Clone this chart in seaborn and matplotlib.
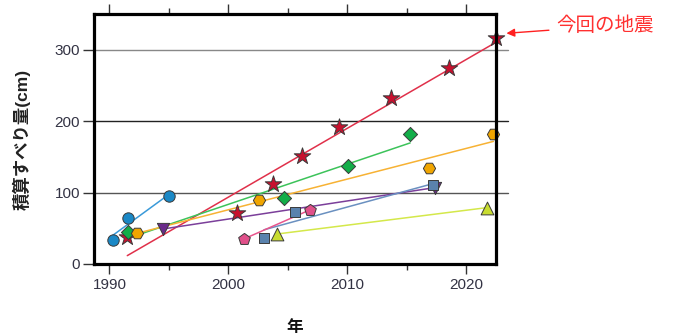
import matplotlib
matplotlib.use("Agg")
import matplotlib.pyplot as plt
import seaborn as sns
import numpy as np
import pandas as pd

# Cumulative slip (cm) per event sequence, by year
star_year = [1991.5, 2000.7, 2003.8, 2006.2, 2009.3, 2013.7, 2018.6, 2022.5]
star_slip = [38, 72, 112, 151, 192, 232, 274, 316]

circle_year = [1990.3, 1991.6, 1995.0]
circle_slip = [34, 65, 95]

diamond_year = [1991.6, 2004.7, 2010.1, 2015.3]
diamond_slip = [45, 92, 137, 182]

hexagon_year = [1992.3, 2002.6, 2016.9, 2022.3]
hexagon_slip = [44, 89, 135, 182]

downtri_year = [1994.5, 2017.4]
downtri_slip = [49, 107]

square_year = [2003.0, 2005.6, 2017.2]
square_slip = [37, 73, 110]

pentagon_year = [2001.3, 2006.9]
pentagon_slip = [35, 76]

uptri_year = [2004.1, 2021.8]
uptri_slip = [42, 79]

x_ticks = [1990, 2000, 2010, 2020]
y_ticks = [0, 100, 200, 300]
x_label = "年"
y_label = "積算すべり量(cm)"
note_text = "今回の地震"

sns.set_theme(style="white")
plt.rcParams["font.family"] = ["Liberation Sans", "Noto Sans CJK JP", "DejaVu Sans"]

series = [
    # (years, slip, marker, size, face, line colour)
    (star_year, star_slip, "*", 12.5, "#c8102e", "#e0304a"),
    (circle_year, circle_slip, "o", 8.2, "#1a88c6", "#3a9ad9"),
    (diamond_year, diamond_slip, "D", 7.2, "#12ad48", "#3cc35a"),
    (hexagon_year, hexagon_slip, "H", 8.8, "#f0a500", "#f7b234"),
    (downtri_year, downtri_slip, "v", 8.8, "#6a2a8a", "#7b3f9a"),
    (square_year, square_slip, "s", 7.2, "#5a82ad", "#6a90c0"),
    (pentagon_year, pentagon_slip, "p", 8.8, "#e0508a", "#e8558c"),
    (uptri_year, uptri_slip, "^", 9.2, "#c8dc30", "#d4e84a"),
]

fig = plt.figure(figsize=(6.73, 3.36), dpi=100)
ax = fig.add_axes([0.1397, 0.2143, 0.5969, 0.7440])

# Horizontal reference lines, reaching a little past the frame on the right
grid_colors = {100: "#555555", 200: "#222222", 300: "#888888"}
for level, col in grid_colors.items():
    ax.axhline(level, xmin=0, xmax=1.03, color=col, lw=1.0, zorder=1,
               clip_on=False)

# Least-squares trend line of each sequence
for yrs, slip, mk, ms, face, lc in series:
    df = pd.DataFrame({"year": yrs, "slip": slip})
    sns.regplot(data=df, x="year", y="slip", ax=ax, scatter=False, ci=None,
                truncate=True, line_kws=dict(color=lc, lw=1.1, zorder=2))

# Event markers
for yrs, slip, mk, ms, face, lc in series:
    df = pd.DataFrame({"year": yrs, "slip": slip})
    sns.scatterplot(data=df, x="year", y="slip", ax=ax, marker=mk, s=ms ** 2,
                    color=face, edgecolor="#3a3a3a", linewidth=0.7,
                    zorder=3, clip_on=False, legend=False)

ax.set_xlim(1988.7, 2022.5)
ax.set_ylim(0, 350)
ax.set_xticks(x_ticks)
ax.set_xticks([1995, 2005, 2015], minor=True)
ax.set_yticks(y_ticks)
ax.set_xticklabels([str(v) for v in x_ticks])
ax.set_yticklabels([str(v) for v in y_ticks])

ax.tick_params(axis="x", which="major", direction="out", length=7, width=1,
               color="#333333", labelsize=11, labelcolor="#333344",
               bottom=True, top=True, pad=3)
ax.tick_params(axis="x", which="minor", direction="out", length=4, width=1,
               color="#333333", bottom=True, top=True)
ax.tick_params(axis="y", direction="out", length=8, width=1,
               color="#333333", labelsize=11, labelcolor="#333344",
               left=True, pad=2)

for sp in ax.spines.values():
    sp.set_visible(True)
    sp.set_color("black")
    sp.set_linewidth(2.3)
    sp.set_zorder(4)

ax.set_xlabel(x_label, fontsize=12, fontweight="bold", color="#111111",
              labelpad=20)
ax.set_ylabel(y_label, fontsize=12.5, fontweight="bold", color="#222222",
              labelpad=17)

ax.annotate(note_text, xy=(2023.4, 323), xytext=(2027.6, 333),
            xycoords="data", textcoords="data", ha="left", va="center",
            fontsize=14, color="#ff3030", annotation_clip=False,
            arrowprops=dict(arrowstyle="-|>", color="#ff2020", lw=1.0,
                            shrinkA=3, shrinkB=0, mutation_scale=12))

fig.savefig("out.png", dpi=100)
